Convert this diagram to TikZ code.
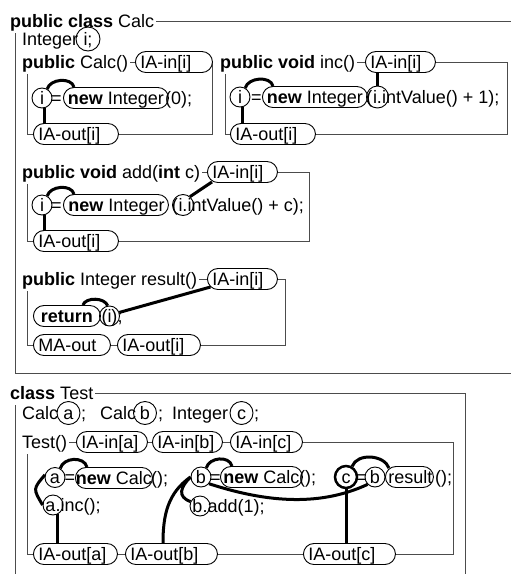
\documentclass[tikz,border=0pt]{standalone}
\usepackage{fontspec}
\setmainfont{Liberation Sans}
\usetikzlibrary{calc}
\tikzset{
  frame/.style={draw=black!70, line width=0.8pt},
  head/.style={fill=white, anchor=base west, inner xsep=2pt, inner ysep=0pt, text height=15pt, text depth=6pt},
  code/.style={anchor=base west, inner sep=0pt},
  eq/.style={anchor=base, inner sep=0pt},
  pill/.style={draw, line width=0.9pt, fill=white, rounded corners=10.5pt, minimum height=21pt,
               inner xsep=5pt, inner ysep=0pt, text height=15pt, text depth=3pt, anchor=west},
  var/.style={draw, circle, line width=0.9pt, inner sep=0pt, minimum size=20pt, text height=12pt, text depth=0pt},
  link/.style={line width=3pt}
}
\newcommand{\pillL}[2]{\makebox[#1pt][l]{#2}}
\newcommand{\pillC}[2]{\makebox[#1pt][c]{#2}}
\begin{document}
\begin{tikzpicture}[x=1pt, y=1pt, font=\fontsize{18}{21}\selectfont]
\useasboundingbox (0,0) rectangle (511,-574);
\clip (0,0) rectangle (511,-574);

% class and method frames
\draw[frame] (15,-21) rectangle (540,-373);
\draw[frame] (15,-393) rectangle (465,-600);
\draw[frame] (27,-62) rectangle (212,-134);
\draw[frame] (225,-62) rectangle (507,-134);
\draw[frame] (27,-172) rectangle (309,-241);
\draw[frame] (27,-279) rectangle (285,-345);
\draw[frame] (27,-442) rectangle (453,-554);

% headers
\node[head] (hCalc) at (8,-27) {\textbf{public class} Calc\hspace{4pt}};
\node[head] (hCtor) at (20,-68) {\textbf{public} Calc()};
\node[head] (hInc) at (218,-68) {\textbf{public void} inc()\hspace{2pt}};
\node[head] (hAdd) at (20,-178) {\textbf{public void} add(\textbf{int} c)};
\node[head] (hRes) at (20,-285) {\textbf{public} Integer result()\hspace{2pt}};
\node[head] (hTest) at (8,-399) {\textbf{class} Test\hspace{8pt}};
\node[head] (hTC) at (20,-448) {Test()};

% pills: Calc()
\node[pill] (p1in) at (135,-62) {\pillL{67}{IA-in[i]}};
\node[pill] (p1out) at (33,-134) {\pillL{75}{IA-out[i]}};
\node[pill] (p1new) at (63,-98) {\pillC{95}{\textbf{new} Integer}};
% pills: inc()
\node[pill] (p2in) at (365,-62) {\pillL{60}{IA-in[i]}};
\node[pill] (p2out) at (230,-134) {\pillL{75}{IA-out[i]}};
\node[pill] (p2new) at (262,-97) {\pillC{95}{\textbf{new} Integer}};
% pills: add()
\node[pill] (p3in) at (207,-172) {\pillL{60}{IA-in[i]}};
\node[pill] (p3out) at (33,-241) {\pillL{75}{IA-out[i]}};
\node[pill] (p3new) at (63,-205) {\pillL{95}{\textbf{new} Integer}};
% pills: result()
\node[pill] (p4in) at (207,-279) {\pillL{60}{IA-in[i]}};
\node[pill] (pRet) at (33,-316) {\pillC{57}{\textbf{return}}};
\node[pill] (pMA) at (33,-345) {\pillL{67}{MA-out}};
\node[pill] (p4out) at (117,-345) {\pillL{73}{IA-out[i]}};
% pills: Test()
\node[pill] (pa) at (76,-442) {\pillL{61}{IA-in[a]}};
\node[pill] (pb) at (152,-442) {\pillL{60}{IA-in[b]}};
\node[pill] (pc) at (230,-442) {\pillL{62}{IA-in[c]}};
\node[pill] (pOa) at (33,-554) {\pillL{74}{IA-out[a]}};
\node[pill] (pOb) at (125,-554) {\pillL{82}{IA-out[b]}};
\node[pill] (pOc) at (303,-554) {\pillL{82}{IA-out[c]}};
\node[pill] (pNa) at (75,-478) {\pillC{67}{\textbf{new} Calc}};
\node[pill] (pNb) at (220,-477) {\pillC{72}{\textbf{new} Calc}};
\node[pill, inner xsep=3pt] (pR) at (385,-477) {\pillL{42}{result}};

% variables
\node[var, minimum size=24pt] (vI) at (88,-39) {i;};
\node[var] (c1i) at (42,-98) {i};
\node[var] (c2i) at (240,-97) {i};
\node[var, minimum size=22pt] (c2d) at (377.5,-97) {i.};
\node[var] (c3i) at (42,-205) {i};
\node[var, minimum size=21pt] (c3d) at (183,-205) {i.};
\node[var] (c4i) at (109.5,-316) {(i)};
\node[var, minimum size=23pt] (fa) at (68.5,-413) {a};
\node[var, minimum size=23pt] (fb) at (145,-413) {b};
\node[var, minimum size=23pt] (fc) at (241.5,-413) {c};
\node[var] (ca) at (55,-477.5) {a};
\node[var] (cad) at (53,-505) {a.};
\node[var] (cb) at (201,-477) {b};
\node[var] (cbd) at (200,-506) {b.};
\node[var, line width=2.5pt, minimum size=22pt] (cc) at (346,-477) {c};
\node[var] (cb2) at (375,-477) {b};

% code text
\node[code] (tInt) at (22,-45) {Integer};
\node[eq] (e1) at (56.5,-104) {=};
\node[code] (t1) at (165,-104) {(0);};
\node[eq] (e2) at (256.5,-103) {=};
\node[code, anchor=base east] (t2a) at ([xshift=-5pt]c2d.base) {(};
\node[code] (t2b) at ([xshift=4.5pt]c2d.base) {intValue() + 1);};
\node[eq] (e3) at (56.5,-211) {=};
\node[code, anchor=base east] (t3a) at ([xshift=-5pt]c3d.base) {(};
\node[code] (t3b) at ([xshift=4.5pt]c3d.base) {intValue() + c);};
\node[code] (t4) at ([xshift=8pt]c4i.base) {;};
\node[code] (tA) at (22,-419) {Calc};
\node[code] (sA) at (81,-419) {;};
\node[code] (tB) at (100,-419) {Calc};
\node[code] (sB) at (158,-419) {;};
\node[code] (tC) at (172,-419) {Integer};
\node[code] (sC) at (254,-419) {;};
\node[eq] (ea) at (70,-483.5) {=};
\node[code] (ta) at (151,-484) {();};
\node[code] (tad) at ([xshift=7.5pt]cad.base) {inc();};
\node[eq] (eb) at (215.5,-483) {=};
\node[code] (tb) at (299,-483) {();};
\node[code] (tbd) at ([xshift=7.5pt]cbd.base) {add(1);};
\node[eq] (ec) at (361,-483) {=};
\node[code] (tr) at (435,-483) {();};

% connectors: Calc()
\draw[link] (c1i.60) to[out=75, in=105] ($(p1new.north west)+(11,0)$);
\draw[link] (c1i.-75) -- (c1i.-75 |- p1out.north);
% connectors: inc()
\draw[link] (c2i.60) to[out=75, in=105] ($(p2new.north west)+(11,0)$);
\draw[link] (c2i.-75) -- (c2i.-75 |- p2out.north);
\draw[link] (c2d.north) -- (c2d.north |- p2in.south);
% connectors: add()
\draw[link] (c3i.60) to[out=75, in=105] ($(p3new.north west)+(11,0)$);
\draw[link] (c3i.-75) -- (c3i.-75 |- p3out.north);
\coordinate (k3) at ($(p3in.south west)+(5,1)$);
\draw[link] (c3d.50) -- (k3);
% connectors: result()
\draw[link] ($(pRet.north east)+(-18,0)$) to[out=70, in=110, looseness=0.9] (c4i.100);
\coordinate (k4) at ($(p4in.west)+(3.5,-8)$);
\draw[link] (c4i.20) -- (k4);
\draw[link] ($(pRet.south)+(3.5,0)$) -- ($(pRet.south)+(3.5,0)$ |- pMA.north);
% connectors: Test()
\draw[link] (ca.60) to[out=75, in=105, looseness=1.1] ($(pNa.north west)+(12,0)$);
\draw[link] (ca.165) to[out=230, in=120, looseness=1.6] (cad.west);
\draw[link] (cad.-65) -- (cad.-65 |- pOa.north);
\draw[link] (cb.60) to[out=75, in=105, looseness=1.1] ($(pNb.north west)+(12,0)$);
\draw[link] (cb.west) to[out=225, in=160, looseness=1.5] (cbd.155);
\draw[link] ($(pOb.north west)+(38,0)$) to[out=90, in=215] (cb.west);
\draw[link] (cb.-40) to[out=-18, in=205, looseness=0.9] (cb2.225);
\draw[link] (cc.60) to[out=70, in=110] ($(pR.north west)+(4,-2)$);
\draw[link] (cc.south) -- (cc.south |- pOc.north);
\end{tikzpicture}
\end{document}
